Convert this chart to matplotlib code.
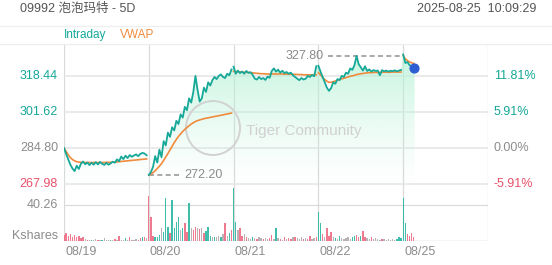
"""5-day intraday chart for 09992 (Pop Mart): price with VWAP, volume below."""
import matplotlib
matplotlib.use("Agg")
import matplotlib.pyplot as plt  # noqa: E402
import numpy as np  # noqa: E402
from matplotlib.colors import to_rgb  # noqa: E402
from matplotlib.patches import Circle  # noqa: E402

TEAL, ORANGE, RED, GRAY = "#16a898", "#f08a3c", "#e8506a", "#8c8c8c"
VTEAL, VRED, VGRAY = "#2ab7a3", "#ee6b82", "#b4aaae"
GRID = "#e4e4e4"
plt.rcParams["font.family"] = ["Liberation Sans", "Noto Sans CJK SC", "DejaVu Sans"]

title = "09992 泡泡玛特 - 5D"
stamp = "2025-08-25  10:09:29"
days = ["08/19", "08/20", "08/21", "08/22", "08/25"]
price_ticks = [318.44, 301.62, 284.80, 267.98]
pct_ticks = ["11.81%", "5.91%", "0.00%", "-5.91%"]
vol_tick = 40.26
hi_label, lo_label = 327.80, 272.20

price = [
    [284.8, 282.0, 279.5, 277.0, 275.2, 274.0, 276.5, 275.0, 277.5, 278.5,
     277.2, 278.0, 276.8, 277.9, 277.0, 278.2, 277.1, 278.3, 277.4, 276.9,
     277.8, 277.0, 277.6, 278.4, 277.9, 279.5, 278.6, 280.8, 279.6, 281.2,
     280.1, 281.5, 280.7, 281.3, 281.8, 281.0, 282.0, 282.5, 282.2, 281.4],
    [272.2, 273.5, 276.0, 281.0, 278.0, 284.0, 280.5, 288.0, 286.0, 292.0,
     290.0, 294.5, 293.0, 297.5, 296.0, 300.5, 299.0, 304.0, 302.5, 308.0,
     306.0, 311.0, 318.5, 312.0, 306.5, 308.0, 313.0, 311.0, 315.5, 314.0,
     316.5, 318.0, 317.0, 318.5, 319.2, 318.0, 317.5, 319.5, 318.8, 321.5],
    [322.8, 319.5, 321.0, 319.8, 320.5, 319.5, 320.8, 319.9, 320.2, 319.0,
     317.2, 316.8, 318.0, 317.0, 317.5, 316.6, 318.2, 317.6, 320.8, 322.0,
     320.5, 321.4, 320.0, 320.9, 319.8, 320.3, 319.5, 320.0, 318.8, 318.0,
     317.2, 316.5, 317.5, 316.8, 317.2, 318.5, 318.0, 318.9, 318.3, 323.0],
    [323.2, 320.5, 318.0, 315.5, 313.0, 311.5, 312.8, 315.5, 314.8, 317.0,
     316.5, 318.5, 318.0, 320.0, 319.5, 322.0, 321.3, 323.5, 327.8, 324.0,
     322.5, 321.0, 323.0, 320.8, 321.5, 320.5, 321.2, 320.8, 321.0, 318.8,
     321.2, 320.6, 321.0, 320.5, 320.9, 320.7, 321.1, 320.6, 321.0, 321.3],
    [328.5, 324.5, 325.0, 323.5, 323.0, 322.3],
]
vwap = [
    [284.8, 283.2, 281.6, 280.3, 279.4, 278.8, 278.4, 278.2, 278.1, 278.0,
     278.0, 278.0, 278.0, 278.0, 278.0, 278.0, 278.0, 278.0, 278.0, 278.0,
     278.1, 278.1, 278.1, 278.2, 278.2, 278.3, 278.4, 278.5, 278.6, 278.7,
     278.8, 278.9, 279.0, 279.1, 279.2, 279.3, 279.4, 279.5, 279.6, 279.7],
    [272.2, 272.6, 273.3, 274.2, 275.2, 276.3, 277.5, 279.0, 280.6, 282.2,
     283.9, 285.6, 287.3, 288.8, 290.2, 291.4, 292.5, 293.5, 294.4, 295.2,
     296.0, 296.6, 297.2, 297.6, 297.9, 298.2, 298.5, 298.7, 298.9, 299.1,
     299.3, 299.5, 299.7, 299.9, 300.1, 300.3, 300.5, 300.7, 300.9, 301.1],
    [320.6, 320.5, 320.4, 320.4, 320.3, 320.2, 320.2, 320.1, 320.0, 319.9,
     319.8, 319.7, 319.6, 319.5, 319.5, 319.4, 319.4, 319.4, 319.4, 319.4,
     319.4, 319.4, 319.4, 319.4, 319.3, 319.3, 319.3, 319.3, 319.2, 319.2,
     319.2, 319.1, 319.1, 319.0, 319.0, 319.0, 319.0, 318.9, 318.9, 319.0],
    [320.0, 319.0, 317.8, 316.8, 316.0, 315.5, 315.5, 315.8, 316.1, 316.5,
     316.8, 317.1, 317.4, 317.7, 318.0, 318.3, 318.5, 318.8, 319.1, 319.3,
     319.5, 319.6, 319.8, 319.9, 320.0, 320.0, 320.1, 320.1, 320.1, 320.1,
     320.2, 320.2, 320.2, 320.2, 320.2, 320.3, 320.3, 320.3, 320.3, 320.3],
    [328.0, 326.5, 325.6, 325.0, 324.6, 324.3],
]
volume = [
    [7, 9, 6, 8, 5, 7, 4, 6, 3, 4, 2, 1.5, 1, 1.5, 1, 2, 1, 1.5, 1, 3,
     1, 1.5, 1, 1, 2, 1, 6, 1.5, 1, 3, 1, 5, 1.5, 1, 2, 1.5, 3, 5, 4, 3],
    [50, 27, 6, 4, 5, 7, 14, 10, 48, 16, 9, 46, 14, 21, 27, 12, 15, 20, 10, 42,
     14, 12, 16, 15, 13, 14, 9, 11, 16, 6, 4, 5, 4, 6, 5, 8, 20, 6, 9, 12],
    [59, 21, 12, 14, 6, 8, 4, 3, 2, 4, 3, 2, 5, 3, 2, 3, 2, 3, 7, 2,
     14, 3, 2, 1.5, 4, 2, 3, 2, 4, 5, 3, 2, 4, 2, 3, 2, 6, 2, 3, 5],
    [33, 20, 8, 5, 14, 6, 10, 4, 3, 2, 6, 3, 2, 3, 4, 2, 5, 6, 7, 4,
     6, 11, 4, 3, 2, 4, 2, 3, 2, 1.5, 2, 2, 1.5, 2, 1, 2, 1.5, 2, 4, 3],
    [48, 20, 8, 6, 9, 5],
]
vol_side = [
    "rrrrrrrrrrnrngnnrngnnngnrnrnngnrnnnrrgrn",
    "rrrgggngggrggggngrrgnrrnrnrgggngnngnrngr",
    "ggnrrnrnngnrnnrnnrrngnrnrnrrnrnnnrnrrnnr",
    "ggrnrrrngngnnnnnggrrgrrnnrnnnnrnnnnnnggg",
    "ggrrrr",
]

W, H = 552, 265
fig = plt.figure(figsize=(W / 100, H / 100), dpi=100)


def box(x0, y0, x1, y1):
    return [x0 / W, 1 - y1 / H, (x1 - x0) / W, (y1 - y0) / H]


def ftext(x, y, s, **kw):
    fig.text(x / W, 1 - y / H, s, va="center", **kw)


ax = fig.add_axes(box(64, 44, 488, 188))
axv = fig.add_axes(box(64, 188, 488, 241))
ylo, yhi = 266.1, 333.4
for a in (ax, axv):
    a.set_xlim(0, 5)
    a.set_xticks([])
    a.set_yticks([])
    for sp in a.spines.values():
        sp.set_visible(False)
    for d in range(6):
        a.axvline(d, color="#dadada", lw=0.9, zorder=0)
ax.set_ylim(ylo, yhi)
axv.set_ylim(0, 59.3)
for p in price_ticks:
    ax.axhline(p, color=GRID, lw=1.1, zorder=0)
axv.axhline(vol_tick, color="#dadada", lw=0.9, zorder=0)
axv.axhline(0, color="#cfcfcf", lw=1.0, zorder=0)

# price + vwap, broken between sessions
xs = [d + np.arange(len(pr)) / 40 for d, pr in enumerate(price)]
xcat = np.concatenate(xs)
pcat = np.concatenate(price)

# mint gradient under the price line, fading to white at the bottom
img = np.zeros((100, 1, 4))
img[..., :3] = to_rgb("#b8f2d8")
img[..., 3] = 0.85 * np.linspace(0, 1, 100)[:, None] ** 1.3
poly = ax.fill_between(np.r_[xcat, xcat[-1] + 0.01], np.r_[pcat, pcat[-1]], ylo,
                       color="none", lw=0)
im = ax.imshow(img, extent=[0, xcat[-1] + 0.01, ylo, yhi], origin="lower",
               aspect="auto", zorder=1)
im.set_clip_path(poly.get_paths()[0], transform=ax.transData)

for x, pr, vw in zip(xs, price, vwap):
    ax.plot(x, vw, color=ORANGE, lw=1.2, zorder=3)
    ax.plot(x, pr, color=TEAL, lw=1.3, zorder=4)
ax.scatter([xcat[-1]], [pcat[-1]], s=40, color="#2d5fd2", zorder=5)

# high / low markers
ihi = int(np.argmax(pcat))
ilo = int(np.argmin(pcat))
ax.plot([3.11, xcat[ihi]], [hi_label, hi_label], ls=(0, (3, 2)), color="#9a9a9a", lw=1.2)
ax.text(3.06, hi_label, f"{hi_label:.2f}", ha="right", va="center", color="#8a8a8a",
        fontsize=9)
ax.plot([xcat[ilo], 1.37], [lo_label, lo_label], ls=(0, (3, 2)), color="#9a9a9a", lw=1.2)
ax.text(1.42, lo_label, f"{lo_label:.2f}", ha="left", va="center", color="#8a8a8a",
        fontsize=9)

# watermark
ax.add_patch(Circle((213, 265 - 128), 27, transform=None, fill=False,
                    ec="#d2d2d2", lw=1.4, zorder=2))
ftext(246, 131, "Tiger Community", color="#d0d0d0", fontsize=11, ha="left")

# volume bars
cmap = {"g": VTEAL, "r": VRED, "n": VGRAY}
for d, (vol, side) in enumerate(zip(volume, vol_side)):
    x = d + np.arange(len(vol)) / 40
    axv.bar(x, vol, width=0.016, color=[cmap[s] for s in side], lw=0, alpha=0.9,
            zorder=2)

# header, legend band
ftext(20, 9, title, color="#555555", fontsize=9, ha="left")
ftext(536, 9, stamp, color="#555555", fontsize=9, ha="right")
for yy in (26, 44):
    fig.add_artist(plt.Line2D([0, 1], [1 - yy / H] * 2, color="#eeeeee", lw=0.9))
ftext(64, 35, "Intraday", color=TEAL, fontsize=8.5, ha="left")
ftext(120, 35, "VWAP", color=ORANGE, fontsize=8.5, ha="left")

# axis labels
tcol = [TEAL, TEAL, GRAY, RED]
for p, pc, col in zip(price_ticks, pct_ticks, tcol):
    y = 44 + (yhi - p) / (yhi - ylo) * 144
    ftext(58, y, f"{p:.2f}", color=col, fontsize=9, ha="right")
    ftext(494, y, pc, color=col, fontsize=9, ha="left")
ftext(58, 205, f"{vol_tick:.2f}", color=GRAY, fontsize=9, ha="right")
ftext(58, 236, "Kshares", color=GRAY, fontsize=9, ha="right")
for d, lab in enumerate(days):
    ftext(65 + d * 84.8, 252, lab, color=GRAY, fontsize=9, ha="left")

fig.savefig("out.png", dpi=100)
